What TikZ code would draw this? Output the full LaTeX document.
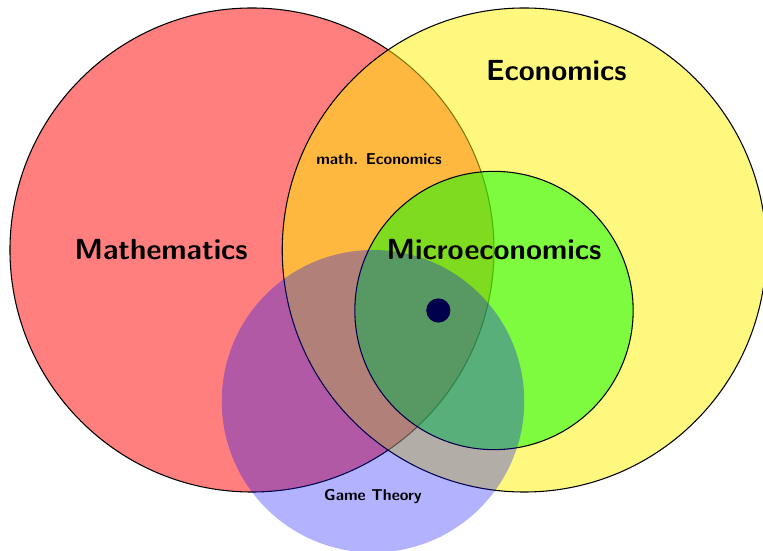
\documentclass[tikz,border=0pt]{standalone}
\begin{document}
\begin{tikzpicture}[
  setfill/.style={draw=black, fill opacity=0.5, line width=0.5pt},
  biglabel/.style={font=\sffamily\bfseries\fontsize{13.7}{16}\selectfont, text=black},
  smalllabel/.style={font=\sffamily\bfseries\fontsize{7.4}{9}\selectfont, text=black}
]
\useasboundingbox (-4.165,-4.975) rectangle (8.446,4.132);
\clip (-4.165,-4.975) rectangle (8.446,4.132);
% Mathematics
\draw[setfill, fill=red] (0,0) circle (4);
% Economics
\draw[setfill, fill=yellow] (4.5,0) circle (4);
% Microeconomics
\draw[setfill, fill=green] (4,-1) circle (2.3);
% point
\fill[black] (3.08,-1) circle (0.2);
% Game theory
\fill[blue, opacity=0.3] (2,-2.5) circle (2.5);
% labels
\node[biglabel] (math) at (-1.5,0) {Mathematics};
\node[biglabel] (econ) at (5.03,2.97) {Economics};
\node[biglabel] (micro) at (4,0) {Microeconomics};
\node[smalllabel] (mathecon) at (2.1,1.5) {math. Economics};
\node[smalllabel] (game) at (2,-4.08) {Game Theory};
\end{tikzpicture}
\end{document}
